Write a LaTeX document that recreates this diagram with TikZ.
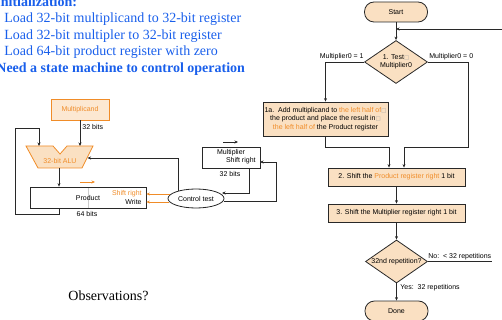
\documentclass[tikz,border=0pt]{standalone}
\usepackage{fontspec}
\setmainfont{Liberation Serif}
\setsansfont{Liberation Sans}
\newfontfamily\symfont{DejaVu Sans}
\usetikzlibrary{shapes.geometric,arrows.meta}
\definecolor{txtblue}{RGB}{25,95,235}
\definecolor{orng}{RGB}{240,140,40}
\definecolor{peach}{RGB}{250,224,194}
\definecolor{peachlt}{RGB}{252,232,210}
\definecolor{lnc}{RGB}{40,40,40}
\newcommand\sqglyph{{\symfont\fontsize{5.5}{6}\selectfont\color{gray!70}\char"25A1}}
\begin{document}
\begin{tikzpicture}[x=1pt,y=-1pt,
  line width=0.8pt,
  arr/.style={-{Stealth[length=3.5pt,width=3pt]}},
  sm/.style={font=\sffamily\fontsize{7}{8.2}\selectfont, inner sep=0pt},
  bigtxt/.style={anchor=base west, inner sep=0pt, font=\fontsize{14}{16}\selectfont},
  flowbox/.style={draw=lnc, fill=peach, sm},
  term/.style={draw=lnc, fill=peach, sm, rounded corners=9.5pt, minimum width=63pt, minimum height=20pt},
  dec/.style={draw=lnc, fill=peach, sm, diamond, aspect=1.47, minimum width=63pt, minimum height=43pt, inner sep=0pt, align=center}]
\useasboundingbox (0,0) rectangle (502,320);

% ---- top text ----
\node[bigtxt, text=txtblue, font=\bfseries\fontsize{14}{16}\selectfont] (init) at (-5,6.5) {Initialization:};
\node[bigtxt, text=txtblue] (l1) at (4,23) {Load 32-bit multiplicand to 32-bit register};
\node[bigtxt, text=txtblue] (l2) at (4,39.5) {Load 32-bit multipler to 32-bit register};
\node[bigtxt, text=txtblue] (l3) at (4,56) {Load 64-bit product register with zero};
\node[bigtxt, text=txtblue, font=\bfseries\fontsize{14}{16}\selectfont] (need) at (-4,72.5) {Need a state machine to control operation};
\node[bigtxt] (obs) at (68,300.5) {Observations?};

% ---- datapath ----
\node[draw=orng, fill=peachlt, minimum width=58pt, minimum height=21pt, sm, text=orng] (mcand) at (80,109.5) {Multiplicand};
\node[sm, anchor=west] (b32a) at (82,127) {32 bits};

\draw[draw=orng, fill=peach] (26,146) -- (53,146) -- (60,154) -- (67,146) -- (93,146) -- (82,168) -- (38,168) -- cycle;
\node[sm, text=orng] (alu) at (60,161) {32-bit ALU};
\coordinate (aluL) at (39,146);
\coordinate (aluM) at (80,146);
\coordinate (aluR) at (87.5,158);
\coordinate (aluB) at (59,168);

\draw[gray!40, line width=0.6pt] (88,187) -- (88,208);
\node[draw=lnc, minimum width=116pt, minimum height=21pt, sm] (prod) at (88,197.5) {Product};
\node[sm, text=orng, anchor=east] (shr) at (142,194) {Shift right};
\node[sm, anchor=east] (wr) at (142,202) {Write};
\node[sm] (b64) at (87,214) {64 bits};
\coordinate (pa1) at (80,182);
\coordinate (pa2) at (95,182);
\draw[arr, orng] (pa1) -- (pa2);

\node[draw=lnc, ellipse, minimum width=56pt, minimum height=19pt, sm] (ct) at (196,198.5) {Control test};

\node[draw=lnc, minimum width=58pt, minimum height=21pt] (mult) at (231,157.5) {};
\node[sm] (multt) at (231,153) {Multiplier};
\node[sm, anchor=east] (mults) at (256,161) {Shift right};
\node[sm] (b32b) at (230,174) {32 bits};
\coordinate (ma1) at (223,142);
\coordinate (ma2) at (238,142);
\draw[arr, lnc] (ma1) -- (ma2);

\coordinate (lpB) at (15,214);
\coordinate (lpT) at (15,128);
\coordinate (ctT) at (178,191);
\coordinate (ctL1) at (170,194);
\coordinate (ctL2) at (169,202);
\coordinate (mB) at (249,168);
\coordinate (ctR1) at (222,193);
\coordinate (ctR2) at (223.5,201);
\coordinate (lpR) at (276,201);
\coordinate (mR) at (260,162);

\draw[arr, lnc] (mcand.south) -- (aluM);
\draw[arr, lnc] (aluB) -- (aluB |- prod.north);
\draw[arr, lnc] (aluB |- prod.south) |- (lpB) -- (lpT) -| (aluL);
\draw[arr, lnc] (ctT) |- (aluR);
\draw[arr, orng] (ctL1) -- (ctL1 -| prod.east);
\draw[arr, orng] (ctL2) -- (ctL2 -| prod.east);
\draw[arr, lnc] (mB) |- (ctR1);
\draw[arr, lnc] (ctR2) -- (lpR) |- (mR);

% ---- flowchart ----
\node[term] (start) at (396,12) {Start};
\node[dec] (t1) at (396,62) {1. Test\sqglyph\\Multiplier0};
\node[flowbox, minimum width=125pt, minimum height=34pt, align=center] (b1a) at (325.5,119)
  {1a.\ \ Add multiplicand to \textcolor{orng}{the left half of}\sqglyph\\the product and place the result in\sqglyph\\\textcolor{orng}{the left half of} the Product register};
\node[flowbox, minimum width=137pt, minimum height=18pt] (b2) at (396.5,177) {2. Shift the \textcolor{orng}{Product register right} 1 bit};
\node[flowbox, minimum width=137pt, minimum height=18pt] (b3) at (396.5,213) {3. Shift the Multiplier register right 1 bit};
\node[dec, minimum width=62pt] (t2) at (396.5,261.5) {32nd repetition?};
\node[term] (done) at (396.5,311) {Done};

\node[sm, anchor=east] (m01) at (364,57) {Multiplier0 = 1};
\node[sm, anchor=west] (m00) at (429,57) {Multiplier0 = 0};
\node[sm, anchor=west] (no) at (428,257) {No:\ \ < 32 repetitions};
\node[sm, anchor=west] (yes) at (400,288) {Yes:\ \ 32 repetitions};

\coordinate (retR) at (502,29);
\coordinate (r1) at (468,147);
\coordinate (m2) at (404,147);
\coordinate (m1) at (389,147);
\coordinate (noR) at (492,261.5);

\draw[arr, lnc] (start) -- (t1);
\draw[arr, lnc] (retR) -- (retR -| start.south);
\draw[arr, lnc] (t1.west) -| (b1a.north);
\draw[arr, lnc] (t1.east) -| (r1) -- (m2) -- (m2 |- b2.north);
\draw[arr, lnc] (b1a.south) |- (m1) -- (m1 |- b2.north);
\draw[arr, lnc] (b2) -- (b3);
\draw[arr, lnc] (b3) -- (t2);
\draw[lnc] (t2.east) -- (noR);
\draw[arr, lnc] (t2) -- (done);
\end{tikzpicture}
\end{document}
